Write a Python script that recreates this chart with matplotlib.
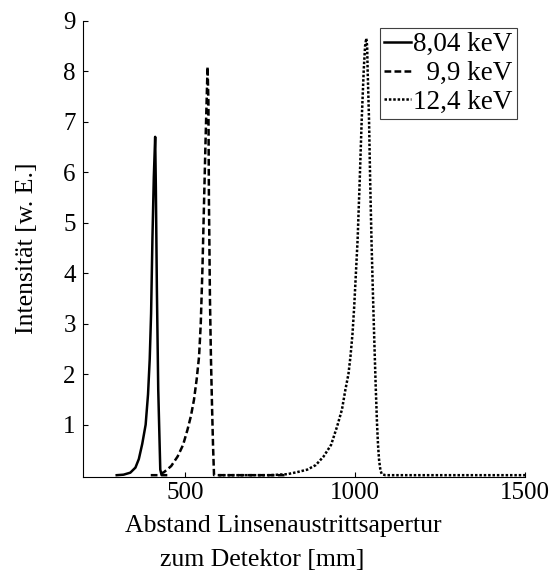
import matplotlib
matplotlib.use("Agg")
import matplotlib.pyplot as plt

plt.rcParams['font.family'] = ['Liberation Serif', 'DejaVu Serif']

# Intensity profiles along the beam axis for three photon energies
labels = ["8,04 keV", "  9,9 keV", "12,4 keV"]

solid_x = [300, 320, 340, 355, 365, 375, 385, 392, 397, 401, 405, 409, 413,
           415, 418, 422, 428, 432, 445]
solid_y = [0, 0.01, 0.05, 0.15, 0.32, 0.62, 1.0, 1.6, 2.3, 3.2, 4.7, 5.9, 6.7,
           5.7, 3.7, 1.7, 0.11, 0, 0]

dashed_x = [400, 420, 439, 460, 479, 495, 508, 518, 527, 535, 542, 547, 552,
            557, 561, 565, 567, 569.5, 571, 574, 577, 580, 583, 586, 600, 800]
dashed_y = [0, 0, 0.06, 0.18, 0.37, 0.6, 0.9, 1.17, 1.49, 1.9, 2.35, 3.0, 4.1,
            5.5, 6.6, 7.6, 8.09, 7.4, 5.45, 3.5, 2.3, 1.4, 0.6, 0, 0, 0]

dotted_x = [600, 750, 801, 830, 860, 885, 908, 930, 948, 962, 972, 981, 987,
            993, 998, 1003, 1008, 1014, 1020, 1026, 1030, 1033.5, 1036, 1037.5,
            1041.6, 1045, 1049, 1053, 1057, 1061, 1065, 1068, 1071, 1075, 1079,
            1090, 1500]
dotted_y = [0, 0, 0.02, 0.06, 0.11, 0.2, 0.37, 0.6, 0.97, 1.3, 1.69, 2.0, 2.35,
            2.8, 3.34, 4.0, 4.66, 5.8, 7.03, 8.02, 8.5, 8.65, 8.5, 8.02,
            7.03, 5.8, 4.6, 3.6, 2.68, 1.8, 1.03, 0.6, 0.31, 0.1, 0.02,
            0, 0]

x_ticks = [500, 1000, 1500]
y_ticks = [1, 2, 3, 4, 5, 6, 7, 8, 9]

W, H = 556, 572
fig = plt.figure(figsize=(W / 100, H / 100), dpi=100)
ax = fig.add_axes([82.7 / W, 1 - 476.7 / H, (525 - 82.7) / W, (476.7 - 20.7) / H])

lw = 1.8
ax.plot(solid_x, solid_y, color='black', lw=lw, linestyle='-', label=labels[0])
ax.plot(dashed_x, dashed_y, color='black', lw=lw, linestyle=(0, (2.7, 1.3)),
        label=labels[1])
ax.plot(dotted_x, dotted_y, color='black', lw=lw, linestyle=(0, (1.0, 0.75)),
        label=labels[2])

ax.set_xlim(200, 1500)
ax.set_ylim(-0.03, 9)
ax.set_xticks(x_ticks)
ax.set_xticklabels([str(v) for v in x_ticks])
ax.set_yticks(y_ticks)
ax.set_yticklabels([str(v) for v in y_ticks])

for side in ('top', 'right'):
    ax.spines[side].set_visible(False)
for side in ('left', 'bottom'):
    ax.spines[side].set_linewidth(0.8)

ax.tick_params(axis='both', direction='in', length=3.5, width=0.8,
               labelsize=18)
ax.tick_params(axis='x', pad=3.5)
ax.tick_params(axis='y', pad=5)

# Axis titles
fig.text(27 / W, 1 - 248.7 / H, "Intensität [w. E.]", rotation=90,
         ha='center', va='center', fontsize=18.5)
fig.text(283 / W, 1 - 531.7 / H, "Abstand Linsenaustrittsapertur",
         ha='center', va='baseline', fontsize=18.5)
fig.text(262 / W, 1 - 566 / H, "zum Detektor [mm]",
         ha='center', va='baseline', fontsize=18.5)

leg = ax.legend(loc='upper right', bbox_to_anchor=(516.7 / W, 1 - 28.3 / H),
                bbox_transform=fig.transFigure, borderaxespad=0,
                fontsize=19.5, handlelength=1.0, handletextpad=0.08,
                borderpad=0.15, labelspacing=0.14, fancybox=False,
                framealpha=1, edgecolor='#404040')
leg.get_frame().set_linewidth(0.8)

fig.savefig("out.png", dpi=100)
